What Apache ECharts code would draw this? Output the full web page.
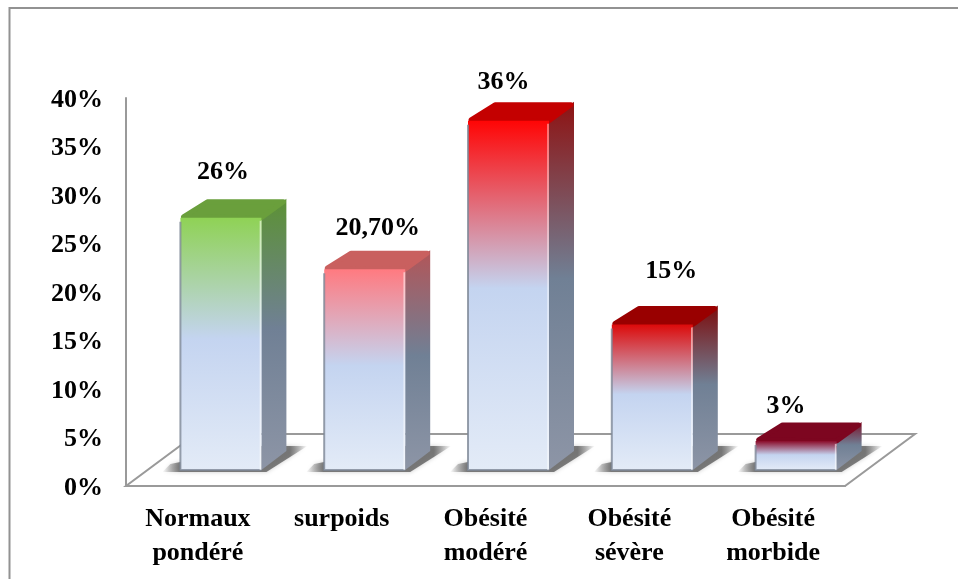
<!DOCTYPE html>
<html>
<head>
<meta charset="utf-8">
<style>html,body{margin:0;padding:0;background:#fff}#chart{width:958px;height:579px}</style>
<script src="https://cdn.jsdelivr.net/npm/echarts@6/dist/echarts.min.js"></script>
</head>
<body>
<div id="chart"></div>
<script>
// Répartition des patients selon l'indice de masse corporelle
var categories = ['Normaux\npondéré', 'surpoids', 'Obésité\nmodéré', 'Obésité\nsévère', 'Obésité\nmorbide'];
var values = [26, 20.7, 36, 15, 3];
var valueLabels = ['26%', '20,70%', '36%', '15%', '3%'];

// Face colours of each column
var frontColors = ['#8fd255', '#ff7a80', '#ff0505', '#dc0a0a', '#8a0a28'];
var topColors = ['#6a9f3c', '#c9605f', '#c40000', '#990000', '#7d0620'];
var sideColors = ['#5c9135', '#b25558', '#8e1212', '#7c0c0c', '#7a1028'];

// Hand placement of the value labels relative to each column
var labelShiftX = [2, 13, -5, 19, -10];
var labelLift = [27, 22, 20, 34, 16];

var FONT = 'bold 26px "Liberation Serif", "Times New Roman", serif';
var FRAME = '#929292';
var DEPTH_X = 25, DEPTH_Y = 19;      // oblique offset of the 3D depth
var BAR_W = 81, BAR_SHIFT = 23;      // column width, shift from the band centre
var FLOOR_LIFT = 16;                 // columns stand on the floor, above the axis line
var FLOOR_X = 70, FLOOR_Y = 52;      // oblique offset of the floor

function vGrad(stops) {
  return {
    type: 'linear', x: 0, y: 0, x2: 0, y2: 1,
    colorStops: stops.map(function (s) { return { offset: s[0], color: s[1] }; })
  };
}

function renderFloor(params) {
  var cs = params.coordSys;
  var l = cs.x, b = cs.y + cs.height, r = cs.x + cs.width;
  return {
    type: 'polygon',
    silent: true,
    shape: { points: [[l, b], [r, b], [r + FLOOR_X, b - FLOOR_Y], [l + FLOOR_X, b - FLOOR_Y]] },
    style: { fill: 'none', stroke: '#9a9a9a', lineWidth: 2 }
  };
}

function renderBar(params, api) {
  var i = api.value(0);
  var top = api.coord([i, api.value(1)]);
  var zero = api.coord([i, 0]);
  var x0 = top[0] + BAR_SHIFT - BAR_W / 2, x1 = x0 + BAR_W;
  var yTop = top[1] - FLOOR_LIFT, yBase = zero[1] - FLOOR_LIFT;

  var blue = '#c4d4f0', pale = '#e3ebf7';
  var shade = 'rgba(95,95,95,';
  return {
    type: 'group',
    children: [
      { // soft cast shadow on the floor, fading at both ends
        type: 'polygon',
        shape: {
          points: [
            [x0 - 18, yBase + 2], [x1 + 5, yBase + 2], [x1 + 46, yBase - 24],
            [x1, yBase - 24], [x0, yBase - 8], [x0 - 10, yBase - 6]
          ]
        },
        style: {
          fill: {
            type: 'linear', x: 0, y: 0, x2: 1, y2: 0,
            colorStops: [
              { offset: 0, color: shade + '0)' },
              { offset: 0.12, color: shade + '0.8)' },
              { offset: 0.88, color: shade + '0.8)' },
              { offset: 1, color: shade + '0)' }
            ]
          },
          shadowBlur: 4,
          shadowColor: shade + '0.4)'
        }
      },
      { // right side
        type: 'polygon',
        shape: { points: [[x1, yTop], [x1 + DEPTH_X, yTop - DEPTH_Y], [x1 + DEPTH_X, yBase - DEPTH_Y], [x1, yBase]] },
        style: { fill: vGrad([[0, sideColors[i]], [0.48, '#708095'], [1, '#8d95a6']]) }
      },
      { // top cap with softened corners
        type: 'polygon',
        shape: { points: [[x0 + 3, yTop - 1], [x0 + DEPTH_X + 2, yTop - DEPTH_Y + 3], [x1 + DEPTH_X - 3, yTop - DEPTH_Y + 3], [x1, yTop]] },
        style: { fill: topColors[i], stroke: topColors[i], lineWidth: 5, lineJoin: 'round' }
      },
      { // front face
        type: 'rect',
        shape: { x: x0, y: yTop, width: BAR_W, height: yBase - yTop },
        style: { fill: vGrad([[0, frontColors[i]], [0.48, blue], [1, pale]]) }
      },
      { // grey bevel along the left and bottom edges
        type: 'polyline',
        shape: { points: [[x0, yTop + 4], [x0, yBase], [x1, yBase]] },
        style: { fill: 'none', stroke: 'rgba(125,135,150,0.8)', lineWidth: 2 }
      },
      { // light bevel along the right edge
        type: 'line',
        shape: { x1: x1 - 1, y1: yTop + 3, x2: x1 - 1, y2: yBase },
        style: { stroke: 'rgba(255,255,255,0.55)', lineWidth: 1.5 }
      },
      {
        type: 'text',
        style: {
          x: x0 + BAR_W / 2 + labelShiftX[i],
          y: yTop - DEPTH_Y - labelLift[i],
          text: valueLabels[i],
          font: FONT,
          fill: '#000',
          align: 'center',
          verticalAlign: 'middle'
        }
      }
    ]
  };
}

var chart = echarts.init(document.getElementById('chart'), null, { renderer: 'canvas' });
chart.setOption({
  animation: false,
  backgroundColor: '#fff',
  graphic: [{
    // outer chart frame: only the top and left edges are visible
    type: 'polyline',
    silent: true,
    shape: { points: [[958, 8], [9.5, 8], [9.5, 579]] },
    style: { fill: 'none', stroke: FRAME, lineWidth: 2 }
  }],
  grid: { left: 126, top: 98, width: 719, height: 388 },
  xAxis: {
    type: 'category',
    data: categories,
    axisTick: { show: false },
    axisLine: { lineStyle: { color: '#9a9a9a', width: 2 } },
    axisLabel: {
      margin: 16,
      interval: 0,
      color: '#000',
      fontFamily: '"Liberation Serif", "Times New Roman", serif',
      fontWeight: 'bold',
      fontSize: 26,
      lineHeight: 34
    }
  },
  yAxis: {
    type: 'value',
    min: 0,
    max: 40,
    interval: 5,
    splitLine: { show: false },
    axisTick: { show: false },
    axisLine: { show: true, lineStyle: { color: '#9a9a9a', width: 2 } },
    axisLabel: {
      margin: 23,
      verticalAlign: 'top',
      lineHeight: 4,
      color: '#000',
      fontFamily: '"Liberation Serif", "Times New Roman", serif',
      fontWeight: 'bold',
      fontSize: 26,
      formatter: '{value}%'
    }
  },
  series: [
    { type: 'custom', silent: true, z: 1, renderItem: renderFloor, data: [[0, 0]], encode: { x: 0, y: 1 } },
    {
      type: 'custom', z: 2, renderItem: renderBar, clip: false,
      data: values.map(function (v, i) { return [i, v]; }),
      encode: { x: 0, y: 1 }
    }
  ]
});
</script>
</body>
</html>
